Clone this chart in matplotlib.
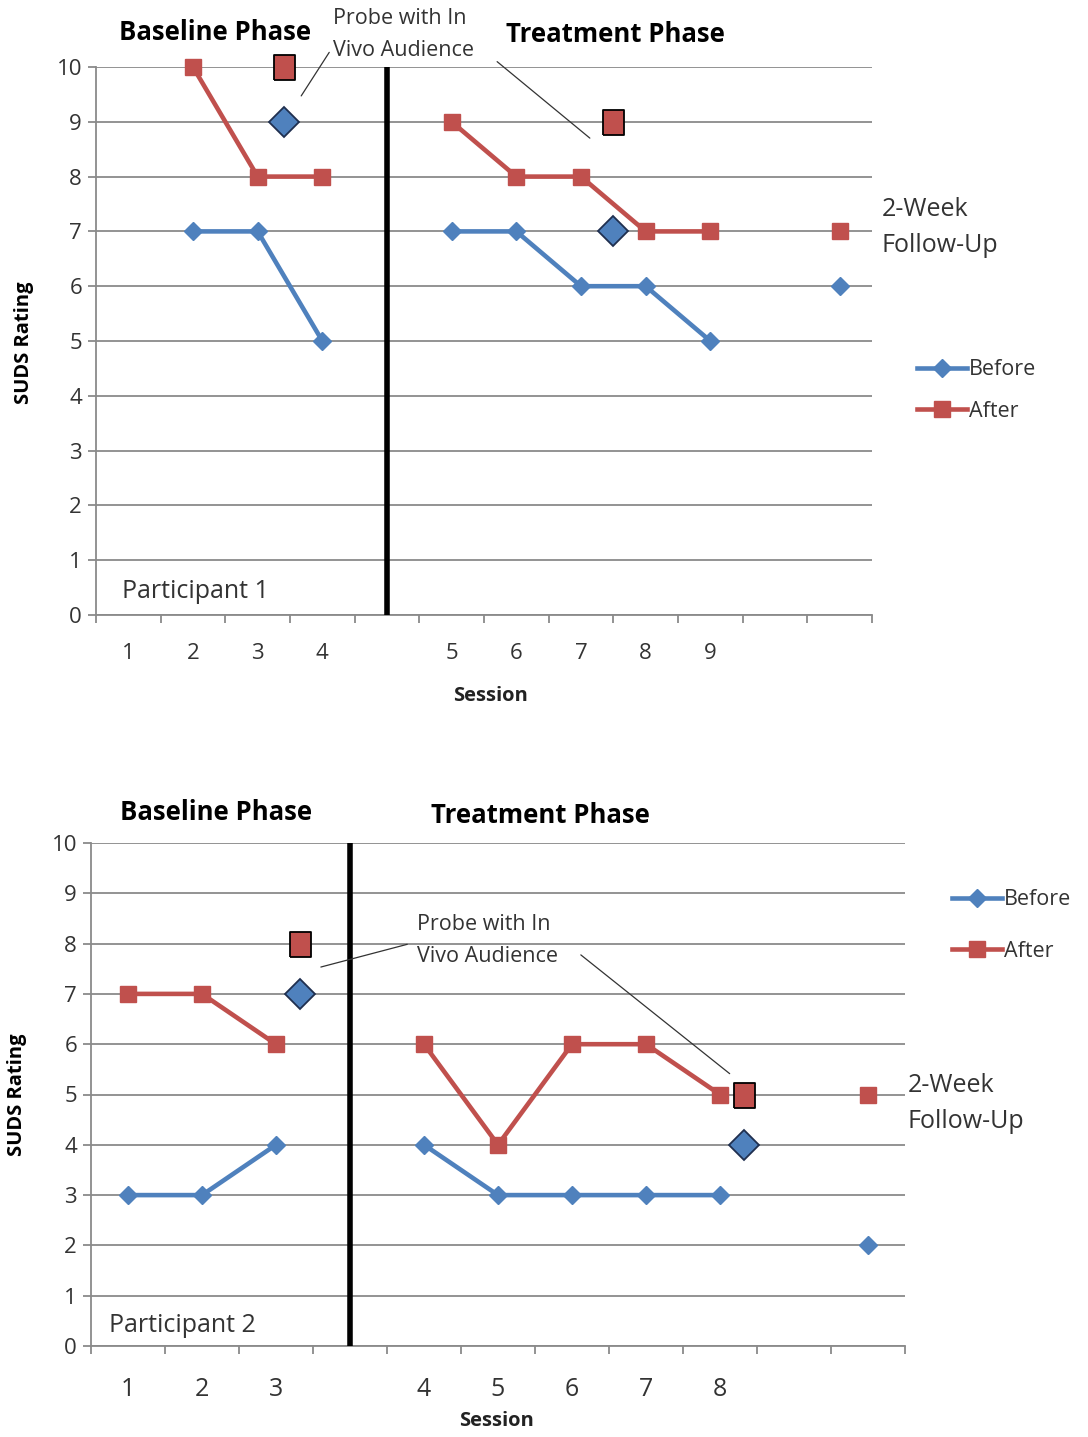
import numpy as np
import matplotlib
matplotlib.use('Agg')
import matplotlib.pyplot as plt
from matplotlib.lines import Line2D

plt.rcParams['font.family'] = ['Open Sans', 'DejaVu Sans']

nan = np.nan

# Участник 1 (позиции по слотам оси X, пустые слоты - разрывы)
top_labels = ['1', '2', '3', '4', '', '5', '6', '7', '8', '9', '', '']
top_before = [nan, 7, 7, 5, nan, 7, 7, 6, 6, 5, nan, 6]
top_after = [nan, 10, 8, 8, nan, 9, 8, 8, 7, 7, nan, 7]
top_probe_x = [2.4, 7.5]
top_probe_before = [9, 7]
top_probe_after = [10, 9]

# Участник 2
bottom_labels = ['1', '2', '3', '', '4', '5', '6', '7', '8', '', '']
bottom_before = [3, 3, 4, nan, 4, 3, 3, 3, 3, nan, 2]
bottom_after = [7, 7, 6, nan, 6, 4, 6, 6, 5, nan, 5]
bottom_probe_x = [2.33, 8.33]
bottom_probe_before = [7, 4]
bottom_probe_after = [8, 5]

BLUE = '#4F81BD'
RED = '#C0504D'
GRID = '#8a8a8a'
TXT = '#333333'
W, H = 1088, 1437

# высокий прямоугольник для маркера пробы
TALL_SQUARE = [(-0.42, -0.5), (0.42, -0.5), (0.42, 0.5), (-0.42, 0.5), (-0.42, -0.5)]


def fx(px):
    return px / W


def fy(py):
    return 1 - py / H


def draw_panel(fig, rect, labels, before, after, probe_x, probe_before, probe_after, tick_size, tick_pad):
    ax = fig.add_axes(rect)
    n = len(labels)
    x = np.arange(n)

    # Сетка и оси
    ax.set_xlim(-0.5, n - 0.5)
    ax.set_ylim(0, 10)
    ax.set_yticks(range(0, 11))
    ax.yaxis.grid(True, color=GRID, lw=1.3)
    ax.set_axisbelow(True)
    for side in ['top', 'right']:
        ax.spines[side].set_visible(False)
    for side in ['left', 'bottom']:
        ax.spines[side].set_color(GRID)
        ax.spines[side].set_linewidth(1.3)
    ax.tick_params(axis='y', length=6, width=1.3, color=GRID, labelsize=16, pad=4, labelcolor=TXT)
    ax.set_xticks(np.arange(n + 1) - 0.5)
    ax.set_xticklabels([])
    ax.tick_params(axis='x', which='major', length=6, width=1.3, color=GRID)
    ax.set_xticks(x, minor=True)
    ax.set_xticklabels(labels, minor=True)
    ax.tick_params(axis='x', which='minor', length=0, labelsize=tick_size, pad=tick_pad, labelcolor=TXT)

    # Линия смены фазы
    phase_x = labels.index('')
    ax.plot([phase_x, phase_x], [0, 10], color='black', lw=4, solid_capstyle='butt', zorder=3)

    # Серии
    ax.plot(x, before, color=BLUE, lw=3.3, marker='D', ms=9.5, zorder=4, clip_on=False)
    ax.plot(x, after, color=RED, lw=3.3, marker='s', ms=11.5, zorder=4, clip_on=False)

    # Пробы с аудиторией
    ax.plot(probe_x, probe_before, ls='none', marker='D', ms=15.5, color=BLUE, mec='#1f2f4f', mew=1.3, zorder=5)
    ax.plot(probe_x, probe_after, ls='none', marker=TALL_SQUARE, ms=18, color=RED, mec='black', mew=1.3,
            zorder=5, clip_on=False)
    return ax


fig = plt.figure(figsize=(W / 100, H / 100), dpi=100)

# Верхний график
ax1 = draw_panel(fig, [fx(96), fy(615), fx(872 - 96), (615 - 67) / H],
                 top_labels, top_before, top_after, top_probe_x, top_probe_before, top_probe_after, 16, 20)
ax1.annotate('', xy=(2.65, 9.43), xytext=(3.13, 10.31), annotation_clip=False,
             arrowprops=dict(arrowstyle='-', color='#333333', lw=0.9))
ax1.annotate('', xy=(7.17, 8.67), xytext=(5.67, 10.13), annotation_clip=False,
             arrowprops=dict(arrowstyle='-', color='#333333', lw=0.9))
fig.text(fx(215), fy(33), 'Baseline Phase', ha='center', va='center', fontsize=18.5, fontweight='bold', color='black')
fig.text(fx(615), fy(35), 'Treatment Phase', ha='center', va='center', fontsize=18.5, fontweight='bold', color='black')
fig.text(fx(333), fy(19), 'Probe with In', ha='left', va='center', fontsize=15.5, color=TXT)
fig.text(fx(333), fy(50), 'Vivo Audience', ha='left', va='center', fontsize=15.5, color=TXT)
fig.text(fx(882), fy(209), '2-Week', ha='left', va='center', fontsize=18, color=TXT)
fig.text(fx(882), fy(245), 'Follow-Up', ha='left', va='center', fontsize=18, color=TXT)
fig.text(fx(122), fy(591), 'Participant 1', ha='left', va='center', fontsize=18, color=TXT)
fig.text(fx(24), fy(343), 'SUDS Rating', ha='center', va='center', rotation=90, fontsize=14.5, fontweight='bold', color='black')
fig.text(fx(490), fy(696), 'Session', ha='center', va='center', fontsize=14.5, fontweight='bold', color='#222222')

# Нижний график
ax2 = draw_panel(fig, [fx(91), fy(1346), fx(905 - 91), (1346 - 843) / H],
                 bottom_labels, bottom_before, bottom_after, bottom_probe_x, bottom_probe_before, bottom_probe_after, 18, 22)
ax2.annotate('', xy=(2.57, 7.52), xytext=(3.81, 8.0), annotation_clip=False,
             arrowprops=dict(arrowstyle='-', color='#333333', lw=0.9))
ax2.annotate('', xy=(8.16, 5.38), xytext=(6.09, 7.81), annotation_clip=False,
             arrowprops=dict(arrowstyle='-', color='#333333', lw=0.9))
fig.text(fx(216), fy(813), 'Baseline Phase', ha='center', va='center', fontsize=18.5, fontweight='bold', color='black')
fig.text(fx(540), fy(815), 'Treatment Phase', ha='center', va='center', fontsize=18.5, fontweight='bold', color='black')
fig.text(fx(417), fy(925), 'Probe with In', ha='left', va='center', fontsize=15.5, color=TXT)
fig.text(fx(417), fy(957), 'Vivo Audience', ha='left', va='center', fontsize=15.5, color=TXT)
fig.text(fx(908), fy(1086), '2-Week', ha='left', va='center', fontsize=18, color=TXT)
fig.text(fx(908), fy(1122), 'Follow-Up', ha='left', va='center', fontsize=18, color=TXT)
fig.text(fx(109), fy(1325), 'Participant 2', ha='left', va='center', fontsize=18, color=TXT)
fig.text(fx(17), fy(1095), 'SUDS Rating', ha='center', va='center', rotation=90, fontsize=14.5, fontweight='bold', color='black')
fig.text(fx(497), fy(1421), 'Session', ha='center', va='center', fontsize=14.5, fontweight='bold', color='#222222')

# Легенды
handles = [Line2D([], [], color=BLUE, lw=3.3, marker='D', ms=9),
           Line2D([], [], color=RED, lw=3.3, marker='s', ms=11)]
fig.legend(handles, ['Before', 'After'], loc='upper left', bbox_to_anchor=(fx(898), fy(340)),
           frameon=False, fontsize=15.5, handlelength=2.3, handletextpad=0.1, labelspacing=0.95,
           labelcolor=TXT)
fig.legend(handles, ['Before', 'After'], loc='upper left', bbox_to_anchor=(fx(933), fy(870)),
           frameon=False, fontsize=15.5, handlelength=2.3, handletextpad=0.1, labelspacing=1.4,
           labelcolor=TXT)

fig.savefig('out.png', dpi=100)
